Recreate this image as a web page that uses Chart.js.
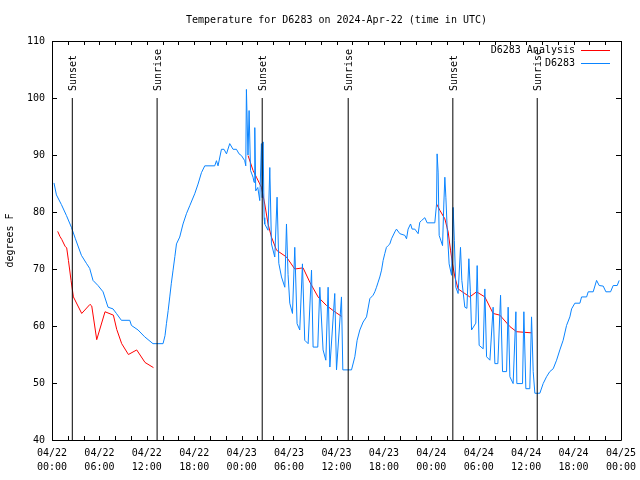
<!DOCTYPE html>
<html>
<head>
<meta charset="utf-8">
<title>Temperature for D6283</title>
<script src="https://cdn.jsdelivr.net/npm/chart.js@4.4.1/dist/chart.umd.min.js"></script>
<style>
  html, body { margin: 0; padding: 0; background: #fff; }
</style>
</head>
<body>
<canvas id="tempChart" width="640" height="480"></canvas>
<script>
// temps.js - D6283, hours counted from 04/22 00:00 UTC

// observations (D6283)
const obsHours = [0.25, 0.56, 1.19, 1.82, 2.46, 2.96, 3.72, 4.35, 4.77, 5.19, 5.82, 6.46, 7.09, 7.72, 8.15, 8.78, 9.84, 10.05, 10.89, 11.73,
  12.78, 14.05, 14.3, 14.48, 14.7, 14.9, 15.1, 15.32, 15.55, 15.75, 16.16, 16.58, 17.01, 17.43, 18.06, 18.48, 18.91, 19.33, 20.59, 20.81, 21.01, 21.44, 21.77, 22.08,
  22.49, 22.91, 23.34, 23.67, 23.97, 24.39, 24.52, 24.6, 24.8, 24.94, 25.12, 25.44, 25.57, 25.66, 25.78, 26.04, 26.29, 26.5, 26.6, 26.71,
  26.84, 26.92, 27.34, 27.56, 27.77, 28.19, 28.48, 28.7, 29.04, 29.46, 29.67, 29.87, 30.09, 30.43, 30.72, 31.01, 31.35, 31.69, 31.98, 32.41,
  32.84, 33.04, 33.63, 33.89, 34.3, 34.65, 34.94, 35.16, 35.78, 36.0, 36.63, 36.8, 37.9, 38.32, 38.61, 38.95, 39.37, 39.8, 40.22, 40.63,
  40.85, 41.06, 41.27, 41.48, 41.7, 41.9, 42.11, 42.32, 42.53, 42.75, 42.96, 43.38, 43.59, 44.01, 44.65, 44.86, 45.06, 45.37, 45.57, 45.91,
  46.33, 46.54, 46.76, 47.18, 47.47, 48.44, 48.66, 48.73, 48.86, 48.99, 49.42, 49.58, 49.71, 49.84, 50.0, 50.25, 50.56, 50.76, 50.91, 51.1,
  51.39, 51.69, 51.86, 52.24, 52.5, 52.75, 52.94, 53.09, 53.63, 53.8, 54.05, 54.56, 54.77, 54.99, 55.41, 55.82, 56.04, 56.42, 56.76, 57.01,
  57.52, 57.72, 57.94, 58.35, 58.7, 58.82, 59.54, 59.71, 59.96, 60.46, 60.68, 60.89, 61.1, 61.73, 62.15, 62.58, 62.99, 63.42, 63.85, 64.26,
  64.68, 65.11, 65.53, 65.75, 66.16, 66.8, 67.01, 67.65, 67.85, 68.48, 68.91, 69.24, 69.75, 70.09, 70.68, 71.01, 71.52, 71.77];
const obsTemps = [85.1, 83.0, 81.3, 79.4, 77.3, 75.3, 72.4, 71.0, 70.1, 68.0, 67.1, 66.0, 63.3, 63.0, 62.2, 61.0, 61.0, 60.1, 59.3, 58.1,
  56.9, 56.9, 58.3, 60.4, 62.7, 65.1, 67.5, 69.8, 72.2, 74.4, 75.6, 77.9, 79.7, 81.1, 83.2, 84.9, 86.9, 88.1, 88.1, 89.0, 88.1, 91.0, 91.0, 90.2,
  92.0, 91.0, 91.0, 90.2, 89.9, 89.0, 88.1, 101.5, 90.0, 97.8, 87.3, 86.1, 85.2, 94.8, 83.7, 84.3, 82.0, 92.0, 82.5, 92.3,
  79.0, 77.9, 76.8, 87.8, 74.4, 72.1, 82.6, 71.0, 68.6, 66.8, 77.9, 69.0, 64.0, 62.2, 73.8, 60.4, 59.3, 70.9, 57.5, 56.9,
  69.8, 56.3, 56.3, 66.8, 55.8, 54.0, 66.8, 52.8, 65.7, 52.3, 65.1, 52.3, 52.3, 54.6, 57.5, 59.3, 60.7, 61.6, 64.8, 65.4,
  66.0, 66.8, 67.7, 68.6, 69.8, 71.5, 72.7, 73.8, 74.1, 74.4, 75.3, 76.5, 77.0, 76.2, 75.9, 75.3, 77.0, 77.9, 77.0, 77.0,
  76.2, 78.2, 78.5, 79.0, 78.1, 78.1, 81.4, 90.2, 87.0, 75.9, 74.1, 81.4, 86.1, 82.6, 77.3, 70.9, 68.9, 80.8, 75.0, 66.8,
  65.7, 73.8, 68.0, 63.3, 63.1, 71.8, 66.0, 59.3, 60.5, 70.6, 56.6, 56.0, 66.5, 54.6, 54.0, 63.3, 53.4, 53.4, 65.4, 52.0,
  52.0, 63.3, 51.1, 49.9, 62.5, 49.9, 49.9, 62.5, 49.0, 49.0, 61.6, 52.0, 48.2, 48.2, 49.9, 51.1, 52.0, 52.5, 54.0, 55.8,
  57.5, 60.1, 61.6, 63.0, 64.0, 64.0, 65.1, 65.1, 66.0, 66.0, 68.0, 67.1, 67.0, 66.0, 66.0, 67.1, 67.1, 68.0];

// analysis (D6283 Analysis), null = no analysis during daytime
const anaHours = [0.72, 1.01, 1.23, 1.65, 1.86, 2.08, 2.41, 2.71, 3.76, 4.81, 5.03, 5.66, 6.71, 7.77, 8.19, 8.82, 9.67, 10.72, 11.77, 12.84,
  18,
  24.81, 25.44, 25.87, 26.51, 26.92, 27.34, 27.77, 28.41, 29.67, 30.72, 31.77, 32.62, 33.67, 34.73, 35.78, 36.63,
  42,
  48.66, 49.08, 49.71, 50.13, 50.43, 50.68, 50.98, 51.39, 52.24, 52.87, 53.72, 54.77, 55.82, 56.67, 57.94, 58.78, 60.68];
const anaTemps = [76.6, 75.7, 75.2, 74.0, 73.7, 71.5, 68.0, 65.1, 62.2, 63.8, 63.5, 57.6, 62.5, 61.9, 59.4, 56.9, 55.0, 55.8, 53.6, 52.7,
  null,
  89.9, 87.3, 86.1, 84.3, 81.4, 77.9, 75.6, 73.3, 72.1, 70.0, 70.2, 67.7, 65.1, 63.6, 62.5, 61.7,
  null,
  81.4, 80.3, 78.8, 76.5, 73.3, 70.9, 68.6, 66.5, 65.7, 65.1, 66.0, 65.1, 62.2, 61.9, 59.9, 59.0, 58.8];

// sunset / sunrise
const sunHours = [2.57, 13.3, 26.6, 37.48, 50.72, 61.4];
const sunLabels = ['Sunset', 'Sunrise', 'Sunset', 'Sunrise', 'Sunset', 'Sunrise'];
const sunLineTop = 100;

const dayLabels = ['04/22', '04/23', '04/24', '04/25'];

const FONT = "'DejaVu Sans Mono', monospace";

function toPoints(xs, ys) {
  return xs.map((x, i) => ({ x: x, y: ys[i] }));
}

// vertical line for each sun event: bottom, top, gap
const sunPoints = [];
sunHours.forEach(h => {
  sunPoints.push({ x: h, y: 40 }, { x: h, y: sunLineTop }, { x: h, y: null });
});

// gnuplot-like frame, inner ticks, key and sun labels
const gnuplotLook = {
  id: 'gnuplotLook',
  afterDraw(chart) {
    const { ctx, chartArea: a, scales } = chart;
    const xs = scales.x, ys = scales.y;
    ctx.save();
    ctx.strokeStyle = '#000';
    ctx.lineWidth = 1;
    ctx.beginPath();
    ctx.rect(Math.round(a.left) + 0.5, Math.round(a.top) + 0.5, Math.round(a.right - a.left), Math.round(a.bottom - a.top));
    xs.ticks.forEach(t => {
      const px = Math.round(xs.getPixelForValue(t.value)) + 0.5;
      ctx.moveTo(px, a.bottom); ctx.lineTo(px, a.bottom - 4);
      ctx.moveTo(px, a.top); ctx.lineTo(px, a.top + 4);
    });
    ys.ticks.forEach(t => {
      const py = Math.round(ys.getPixelForValue(t.value)) + 0.5;
      ctx.moveTo(a.left, py); ctx.lineTo(a.left + 5, py);
      ctx.moveTo(a.right, py); ctx.lineTo(a.right - 5, py);
    });
    ctx.stroke();

    // sunset / sunrise labels
    ctx.fillStyle = '#000';
    ctx.font = '10px ' + FONT;
    ctx.textAlign = 'left';
    ctx.textBaseline = 'middle';
    sunHours.forEach((h, i) => {
      const px = Math.round(xs.getPixelForValue(h)) + 1;
      const py = ys.getPixelForValue(sunLineTop) - 7;
      ctx.save();
      ctx.translate(px, py);
      ctx.rotate(-Math.PI / 2);
      ctx.fillText(sunLabels[i], 0, 0);
      ctx.restore();
    });

    // key
    ctx.textAlign = 'right';
    [0, 1].forEach(i => {
      const ds = chart.data.datasets[i];
      const y = a.top + 9 + i * 13;
      ctx.fillStyle = '#000';
      ctx.fillText(ds.label, a.right - 46, y);
      ctx.strokeStyle = ds.borderColor;
      ctx.beginPath();
      ctx.moveTo(a.right - 40, Math.round(y) + 0.5);
      ctx.lineTo(a.right - 11, Math.round(y) + 0.5);
      ctx.stroke();
    });
    ctx.restore();
  }
};

const ctx = document.getElementById('tempChart').getContext('2d');
const tempChart = new Chart(ctx, {
  type: 'scatter',
  data: {
    datasets: [
      {
        label: 'D6283 Analysis',
        data: toPoints(anaHours, anaTemps),
        showLine: true,
        spanGaps: false,
        borderColor: '#ff0000',
        borderWidth: 1,
        pointRadius: 0,
        order: 2
      },
      {
        label: 'D6283',
        data: toPoints(obsHours, obsTemps),
        showLine: true,
        borderColor: '#0a84ff',
        borderWidth: 1,
        pointRadius: 0,
        order: 1
      },
      {
        label: 'sun',
        data: sunPoints,
        showLine: true,
        spanGaps: false,
        borderColor: '#000000',
        borderWidth: 1,
        pointRadius: 0,
        order: 0
      }
    ]
  },
  options: {
    responsive: false,
    animation: false,
    devicePixelRatio: 1,
    layout: { padding: { right: 19 } },
    plugins: {
      legend: { display: false },
      tooltip: { enabled: false },
      title: {
        display: true,
        text: 'Temperature for D6283 on 2024-Apr-22 (time in UTC)',
        fullSize: false,
        color: '#000',
        font: { family: FONT, size: 10, weight: 'normal' },
        padding: { top: 14, bottom: 15 }
      }
    },
    scales: {
      x: {
        type: 'linear',
        min: 0,
        max: 72,
        grid: { display: false, drawTicks: false },
        border: { display: false },
        ticks: {
          stepSize: 2,
          autoSkip: false,
          maxRotation: 0,
          padding: 6,
          color: '#000',
          font: { family: FONT, size: 10, lineHeight: 1.4 },
          callback: (v) => {
            if (v % 6 !== 0) return '';
            const hh = v % 24;
            return [dayLabels[Math.floor(v / 24)], (hh < 10 ? '0' : '') + hh + ':00'];
          }
        },
        afterFit: (s) => { s.height = 40; s.paddingLeft = 0; s.paddingRight = 0; }
      },
      y: {
        min: 40,
        max: 110,
        grid: { display: false, drawTicks: false },
        border: { display: false },
        ticks: {
          stepSize: 10,
          padding: 7,
          color: '#000',
          font: { family: FONT, size: 10 }
        },
        title: {
          display: true,
          text: 'degrees F',
          color: '#000',
          font: { family: FONT, size: 10 },
          padding: { top: 4, bottom: 0 }
        },
        afterFit: (s) => { s.width = 52; }
      }
    }
  },
  plugins: [gnuplotLook]
});
</script>
</body>
</html>
